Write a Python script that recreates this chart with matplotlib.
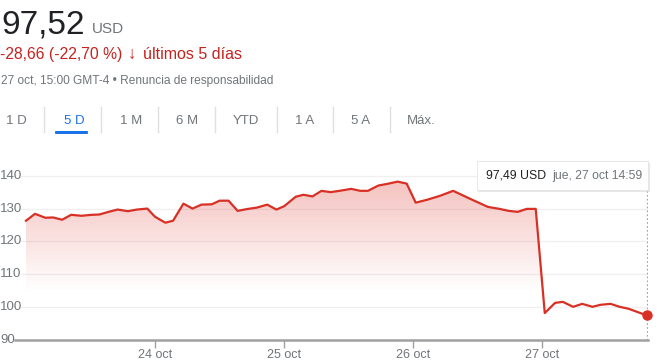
import numpy as np
import matplotlib.pyplot as plt
import matplotlib.transforms as mtransforms
from matplotlib.patches import Rectangle, FancyBboxPatch

plt.rcParams['font.family'] = ['Liberation Sans', 'DejaVu Sans']

# posición en días de cotización desde la apertura del 23 oct, y precio (USD)
dias = [0.00, 0.07, 0.15, 0.21, 0.28, 0.35, 0.43, 0.51, 0.57, 0.64, 0.71, 0.79,
        0.86, 0.94, 1.00, 1.08, 1.14, 1.22, 1.29, 1.36, 1.44, 1.50, 1.57, 1.64,
        1.72, 1.79, 1.87, 1.94, 2.00, 2.09, 2.15, 2.22, 2.29, 2.36, 2.43, 2.52,
        2.59, 2.65, 2.73, 2.81, 2.88, 2.95, 3.02, 3.11, 3.21, 3.31, 3.44, 3.58,
        3.67, 3.74, 3.81, 3.88, 3.95, 4.02, 4.10, 4.16, 4.24, 4.31, 4.39, 4.45,
        4.53, 4.60, 4.67, 4.74, 4.81]
precio = [126.3, 128.4, 127.2, 127.3, 126.6, 128.1, 127.8, 128.1, 128.2, 129.0,
          129.7, 129.2, 129.7, 130.0, 127.5, 125.7, 126.3, 131.5, 130.0, 131.2,
          131.3, 132.4, 132.4, 129.3, 129.9, 130.3, 131.2, 129.7, 130.7, 133.6,
          134.2, 133.7, 135.4, 135.0, 135.4, 136.0, 135.4, 135.4, 137.0, 137.6,
          138.2, 137.6, 131.8, 132.7, 133.9, 135.4, 133.0, 130.5, 129.9, 129.3,
          129.0, 129.9, 129.9, 98.2, 101.3, 101.6, 100.1, 101.0, 100.1, 100.7,
          101.0, 100.1, 99.5, 98.5, 97.5]
ticks_x = [1, 2, 3, 4]
etiquetas_x = ['24 oct', '25 oct', '26 oct', '27 oct']
ticks_y = [90, 100, 110, 120, 130, 140]
pestanas = ['1 D', '5 D', '1 M', '6 M', 'YTD', '1 A', '5 A', 'Máx.']

W, H = 661, 361
rojo = '#d93025'
gris = '#70757a'

fig = plt.figure(figsize=(W / 100, H / 100), dpi=100)

def fx(px):
    return px / W

def fy(py):
    return 1 - py / H

# cabecera
fig.text(fx(1), fy(33), '97,52', fontsize=24, color='#202124', va='baseline')
fig.text(fx(92), fy(33), 'USD', fontsize=11, color=gris, va='baseline')
fig.text(fx(0), fy(59), '-28,66 (-22,70 %)', fontsize=11.3, color='#c5221f', va='baseline')
fig.text(fx(128), fy(59), '↓', fontsize=12, color='#c5221f', va='baseline', fontweight='bold')
fig.text(fx(143), fy(59), 'últimos 5 días', fontsize=11.5, color='#c5221f', va='baseline')
fig.text(fx(1), fy(84), '27 oct, 15:00 GMT-4 • Renuncia de responsabilidad',
         fontsize=8.6, color=gris, va='baseline')

# pestañas
centros = [16, 74, 131, 187, 246, 305, 361, 421]
for c, t in zip(centros, pestanas):
    fig.text(fx(c), fy(124), t, fontsize=9.5, ha='center', va='baseline',
             color='#1a73e8' if t == '5 D' else gris)
for s in [44, 101, 158, 215, 277, 333, 390]:
    fig.add_artist(plt.Line2D([fx(s), fx(s)], [fy(107), fy(132)],
                              color='#e0e0e0', lw=1))
fig.add_artist(FancyBboxPatch((fx(55), fy(134)), fx(33), 3 / H,
                              boxstyle='round,pad=0,rounding_size=0.002',
                              fc='#1a73e8', ec='none'))

# gráfico
ax = fig.add_axes([fx(15), fy(340), fx(648 - 15), (340 - 156) / H])
ax.set_xlim(-0.085, 4.82)
ax.set_ylim(90, 146)

for v in ticks_y[1:]:
    ax.axhline(v, color='#f0f0f0', lw=1, zorder=0, xmin=0.01)

poly = ax.fill_between(dias, precio, 90, color='none', lw=0)
grad = np.zeros((256, 1, 4))
grad[:, 0, 0] = 0.86
grad[:, 0, 1] = 0.19
grad[:, 0, 2] = 0.15
grad[:, 0, 3] = np.clip(np.linspace(0.30, -0.04, 256), 0, 1)
img = ax.imshow(grad, extent=[0, 4.81, 100, 139], aspect='auto', origin='upper', zorder=1)
img.set_clip_path(poly.get_paths()[0], transform=ax.transData)

ax.plot(dias, precio, color=rojo, lw=1.6, zorder=3)
ax.plot(dias[-1], precio[-1], 'o', color=rojo, ms=6.5, zorder=4, clip_on=False)
ax.plot([dias[-1], dias[-1]], [90, 135.7], color='#9aa0a6', lw=0.8, ls=(0, (1.5, 2)), zorder=2)

for s in ['top', 'right', 'left']:
    ax.spines[s].set_visible(False)
ax.spines['bottom'].set_color('#a0a0a0')
ax.spines['bottom'].set_linewidth(1.8)
ax.set_yticks([])
ax.set_xticks(ticks_x)
ax.set_xticklabels(etiquetas_x, fontsize=9, color=gris)
ax.tick_params(axis='x', length=6, width=1, color='#a0a0a0', pad=0.5)

trans_y = mtransforms.blended_transform_factory(fig.transFigure, ax.transData)
for v in ticks_y:
    ax.text(fx(0), v, str(v), transform=trans_y, fontsize=9.5, color=gris,
            ha='left', va='center')

# tooltip
fig.add_artist(Rectangle((fx(478), fy(192)), fx(172), 29 / H, fc='#d8d8d8', ec='none', alpha=0.6))
fig.add_artist(Rectangle((fx(477), fy(190)), fx(171), 29 / H, fc='white', ec='#e4e4e4', lw=0.6))
fig.text(fx(486), fy(176), '97,49 USD', fontsize=8.8, color='#202124', va='center')
fig.text(fx(552), fy(176), 'jue, 27 oct 14:59', fontsize=8.8, color=gris, va='center')

fig.savefig('out.png', dpi=100)
